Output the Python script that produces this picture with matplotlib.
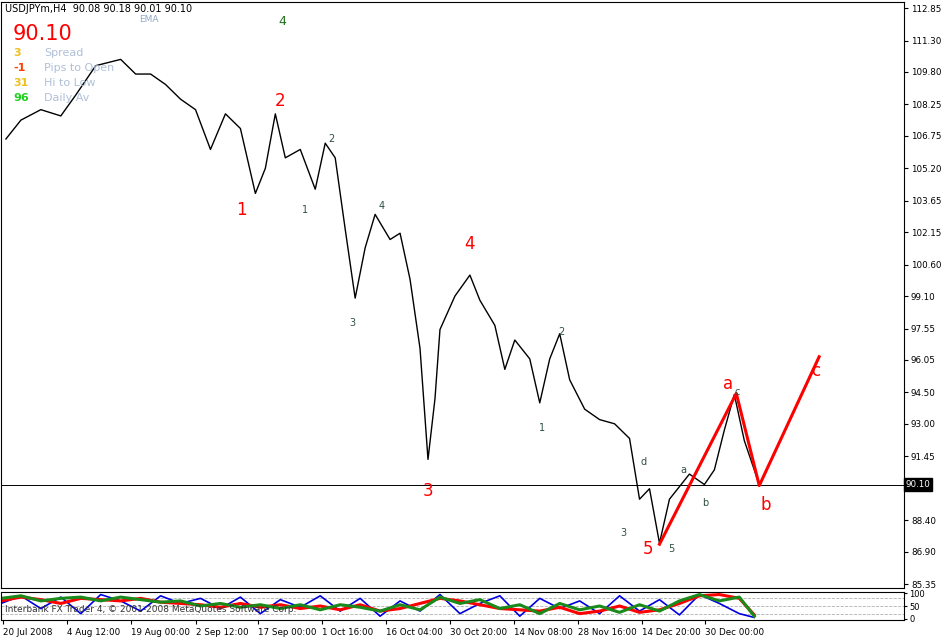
import matplotlib.pyplot as plt
import numpy as np

# price path (x = bar position in px, price)
bar_x = [5, 20, 40, 60, 75, 95, 120, 135, 150, 165, 180, 195, 210, 225, 240, 255, 265, 275,
         285, 300, 315, 325, 335, 345, 355, 365, 375, 390, 400, 410, 420, 428, 435, 440, 455,
         470, 480, 495, 505, 515, 530, 540, 550, 560, 570, 585, 600, 615, 630, 640, 650, 660,
         670, 690, 705, 715, 725, 735, 745, 755, 760]
price = [106.6, 107.5, 108.0, 107.7, 108.7, 110.1, 110.4, 109.7, 109.7, 109.2, 108.5, 108.0,
         106.1, 107.8, 107.1, 104.0, 105.2, 107.8, 105.7, 106.1, 104.2, 106.4, 105.7, 102.3,
         99.0, 101.4, 103.0, 101.8, 102.1, 99.9, 96.6, 91.3, 94.2, 97.5, 99.1, 100.1, 98.9,
         97.7, 95.6, 97.0, 96.1, 94.0, 96.1, 97.3, 95.1, 93.7, 93.2, 93.0, 92.3, 89.4, 89.9,
         87.3, 89.4, 90.6, 90.1, 90.8, 92.7, 94.4, 92.2, 90.8, 90.1]

wave_x = [660, 737, 760, 820]
wave_y = [87.25, 94.45, 90.05, 96.2]

big_labels = ["1", "2", "3", "4", "5", "a", "b", "c"]
big_x = [241, 280, 428, 470, 648, 729, 766, 817]
big_y = [103.2, 108.4, 89.8, 101.6, 87.0, 94.9, 89.1, 95.5]

small_labels = ["1", "2", "3", "4", "2", "1", "3", "d", "5", "a", "b", "c"]
small_x = [305, 331, 352, 382, 562, 542, 624, 644, 672, 684, 706, 738]
small_y = [103.2, 106.6, 97.8, 103.4, 97.4, 92.8, 87.8, 91.2, 87.0, 90.8, 89.2, 94.5]

price_ticks = [112.85, 111.30, 109.80, 108.25, 106.75, 105.20, 103.65, 102.15, 100.60, 99.10,
               97.55, 96.05, 94.50, 93.00, 91.45, 88.40, 86.90, 85.35]
date_labels = ["20 Jul 2008", "4 Aug 12:00", "19 Aug 00:00", "2 Sep 12:00", "17 Sep 00:00",
               "1 Oct 16:00", "16 Oct 04:00", "30 Oct 20:00", "14 Nov 08:00", "28 Nov 16:00",
               "14 Dec 20:00", "30 Dec 00:00"]
date_x = [2, 66, 130, 195, 258, 322, 386, 450, 514, 578, 642, 706]

# oscillator values
osc_x = [0, 20, 40, 60, 80, 100, 120, 140, 160, 180, 200, 220, 240, 260, 280, 300, 320, 340,
         360, 380, 400, 420, 440, 460, 480, 500, 520, 540, 560, 580, 600, 620, 640, 660, 680,
         700, 720, 740, 755]
blue = [60, 90, 40, 85, 20, 95, 70, 30, 90, 60, 80, 40, 85, 20, 75, 45, 90, 30, 80, 10, 70,
        30, 95, 20, 60, 90, 10, 80, 40, 70, 20, 90, 30, 75, 15, 95, 60, 20, 5]
red = [70, 85, 75, 60, 80, 75, 70, 80, 65, 60, 55, 45, 60, 45, 55, 40, 50, 35, 55, 30, 40,
       60, 80, 70, 55, 40, 35, 30, 45, 20, 30, 50, 25, 35, 60, 90, 95, 80, 15]
green = [80, 90, 70, 80, 85, 70, 85, 75, 65, 70, 50, 60, 45, 55, 40, 55, 35, 55, 45, 30, 55,
         35, 85, 60, 75, 40, 55, 20, 60, 35, 50, 25, 55, 30, 70, 95, 70, 85, 10]

fig = plt.figure(figsize=(9.43, 6.38), dpi=100)
W, H = 943, 638
right = 903
ax = fig.add_axes([0.001, 1 - 588 / H, right / W, 586 / H])
ax.set_xlim(0, 905)
ax.set_ylim(85.16, 113.14)
ax.plot(bar_x, price, color="black", lw=1.0)
ax.axhline(90.10, color="black", lw=0.7)
ax.plot(wave_x, wave_y, color="red", lw=2.2)
for t, x, y in zip(big_labels, big_x, big_y):
    ax.text(x, y, t, color="red", fontsize=12, ha="center", va="center")
for t, x, y in zip(small_labels, small_x, small_y):
    ax.text(x, y, t, color="#2f4f3f", fontsize=7, ha="center", va="center")
ax.text(282, 112.2, "4", color="#1f6f1f", fontsize=9, ha="center", va="center")

ax.yaxis.tick_right()
ax.set_yticks(price_ticks)
ax.set_yticklabels(["%.2f" % v for v in price_ticks], fontsize=6.3)
ax.tick_params(axis="y", length=3, pad=2)
ax.set_xticks([])
ax.text(907, 90.10, "90.10", fontsize=6.3, color="white", va="center", ha="left",
        clip_on=False, bbox=dict(facecolor="black", edgecolor="black", pad=1.2))

ax.text(4, 112.8, "USDJPYm,H4  90.08 90.18 90.01 90.10", fontsize=7, va="center")
ax.text(148, 112.3, "EMA", fontsize=6.5, color="#8fa8c8", ha="center", va="center")
ax.text(12, 111.6, "90.10", fontsize=15, color="red", va="center")
info_vals = ["3", "-1", "31", "96"]
info_cols = ["#f0c020", "#ff4000", "#f0c020", "#20d020"]
info_names = ["Spread", "Pips to Open", "Hi to Low", "Daily Av"]
for i in range(4):
    yy = 110.7 - i * 0.72
    ax.text(12, yy, info_vals[i], fontsize=8, color=info_cols[i], weight="bold", va="center")
    ax.text(43, yy, info_names[i], fontsize=8, color="#b0c0d8", va="center")

ax2 = fig.add_axes([0.001, 1 - 620 / H, right / W, 28 / H])
ax2.set_xlim(0, 905)
ax2.set_ylim(-5, 105)
for lv in [20, 50, 80]:
    ax2.axhline(lv, color="#b0b0b0", lw=0.6, ls="--")
ax2.plot(osc_x, blue, color="#0000e0", lw=1.2)
ax2.plot(osc_x, red, color="red", lw=2.2)
ax2.plot(osc_x, green, color="#1a8a1a", lw=2.2)
ax2.text(4, 38, "Interbank FX Trader 4, © 2001-2008 MetaQuotes Software Corp.", fontsize=6.5,
         va="center", color="#333333")
ax2.yaxis.tick_right()
ax2.set_yticks([0, 50, 100])
ax2.set_yticklabels(["0", "50", "100"], fontsize=6)
ax2.tick_params(axis="y", length=2, pad=2)
ax2.set_xticks(date_x)
ax2.set_xticklabels(date_labels, fontsize=6.3, ha="left")
ax2.tick_params(axis="x", length=3, pad=3)

fig.savefig("out.png", dpi=100)
